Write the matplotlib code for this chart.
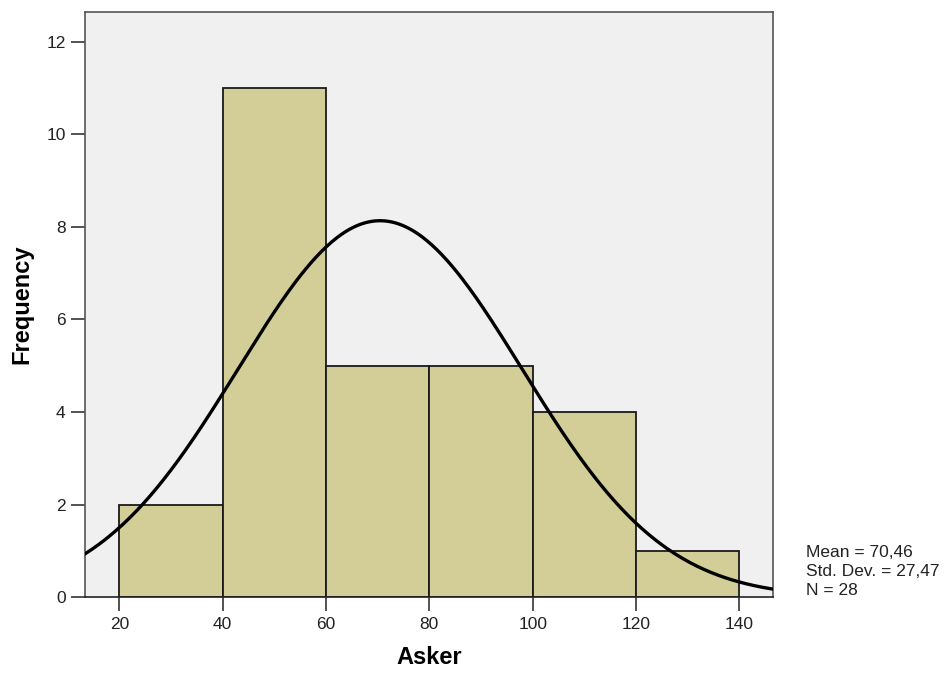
import numpy as np
import matplotlib
matplotlib.use("Agg")
import matplotlib.pyplot as plt

plt.rcParams['font.family'] = ['Liberation Sans', 'DejaVu Sans']

# Histogram of Asker values
bin_edges = [20, 40, 60, 80, 100, 120, 140]
counts = [2, 11, 5, 5, 4, 1]
mean_val = 70.46
std_val = 27.47
n_obs = 28
x_ticks = [20, 40, 60, 80, 100, 120, 140]
y_ticks = [0, 2, 4, 6, 8, 10, 12]

fig = plt.figure(figsize=(9.5, 6.74), dpi=100)
ax = fig.add_axes([85 / 950, 1 - 597.3 / 674, 688 / 950, 585.3 / 674])
ax.set_facecolor('#F0F0F1')

lefts = bin_edges[:-1]
widths = np.diff(bin_edges)
ax.bar(lefts, counts, width=widths, align='edge', color='#D3CE98',
       edgecolor='#1a1a1a', linewidth=1.3, zorder=2)

# Normal curve scaled to counts per bin
bw = widths[0]
x_lo, x_hi = 13.36, 146.5
xs = np.linspace(x_lo, x_hi, 400)
ys = n_obs * bw / (std_val * np.sqrt(2 * np.pi)) * np.exp(-0.5 * ((xs - mean_val) / std_val) ** 2)
ax.plot(xs, ys, color='black', linewidth=2.4, zorder=3)

ax.set_xlim(x_lo, x_hi)
ax.set_ylim(0, 12.64)
ax.set_xticks(x_ticks)
ax.set_yticks(y_ticks)
ax.tick_params(direction='out', length=10, width=1.3, color='#444444',
               labelsize=12.5, labelcolor='#222222', pad=4)
for s in ax.spines.values():
    s.set_color('#555555')
    s.set_linewidth(1.2)
ax.spines['bottom'].set_color('#222222')

ax.set_xlabel('Asker', fontsize=17, fontweight='bold', labelpad=10)
ax.set_ylabel('Frequency', fontsize=17, fontweight='bold', labelpad=9)


def fmt(v):
    return f"{v:.2f}".replace('.', ',')


stat_lines = [f"Mean = {fmt(mean_val)}", f"Std. Dev. = {fmt(std_val)}", f"N = {n_obs}"]
for i, line in enumerate(stat_lines):
    fig.text(806 / 950, 1 - (557 + 19 * i) / 674, line, fontsize=12.5,
             color='#222222', va='baseline', ha='left')

fig.savefig('out.png', dpi=100)
